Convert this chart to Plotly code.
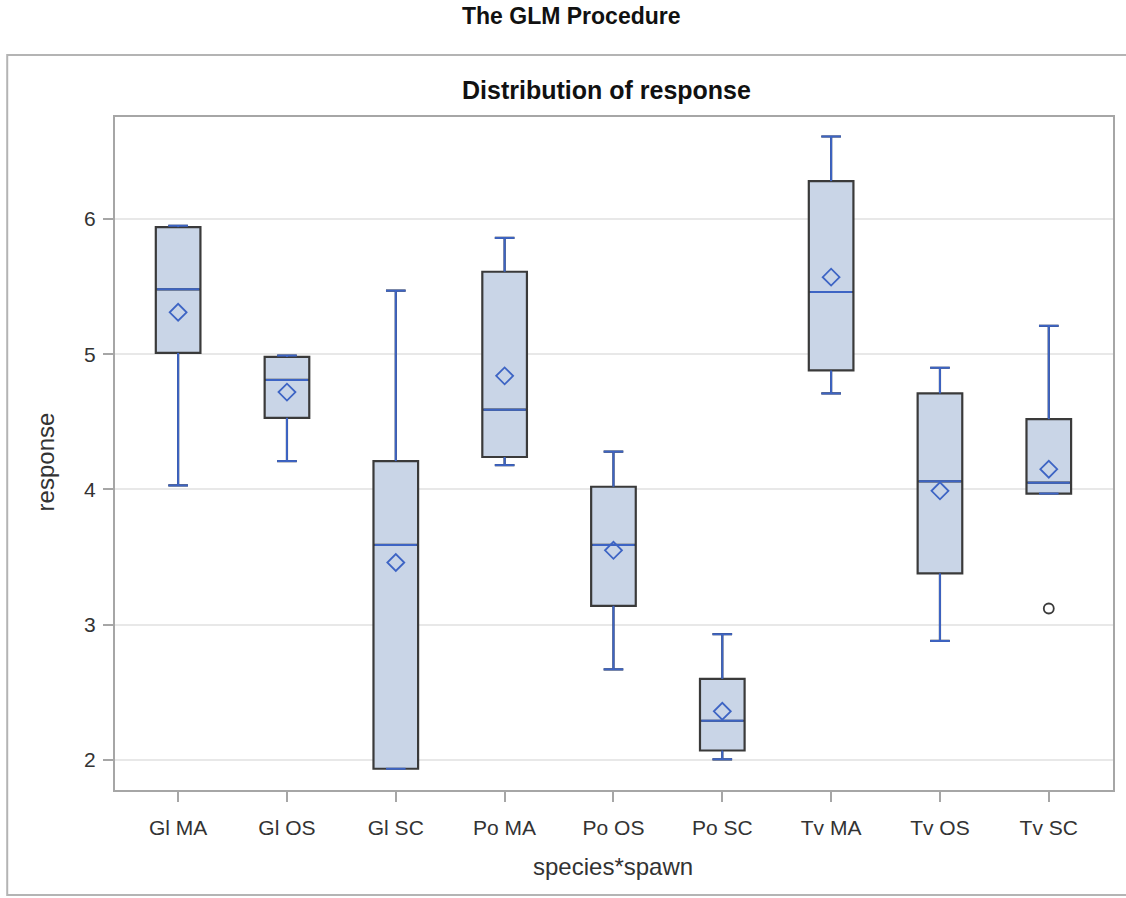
import plotly.graph_objects as go

categories = ["Gl MA", "Gl OS", "Gl SC", "Po MA", "Po OS", "Po SC", "Tv MA", "Tv OS", "Tv SC"]
q1 = [5.01, 4.53, 1.935, 4.24, 3.14, 2.07, 4.88, 3.38, 3.97]
median = [5.48, 4.81, 3.59, 4.59, 3.59, 2.29, 5.46, 4.06, 4.05]
q3 = [5.94, 4.98, 4.21, 5.61, 4.02, 2.60, 6.28, 4.71, 4.52]
lower_whisker = [4.03, 4.21, 1.935, 4.18, 2.67, 2.005, 4.71, 2.88, 3.97]
upper_whisker = [5.95, 4.99, 5.47, 5.86, 4.28, 2.93, 6.61, 4.90, 5.21]
means = [5.31, 4.72, 3.46, 4.84, 3.55, 2.36, 5.57, 3.99, 4.15]
outlier_cat = ["Tv SC"]
outlier_val = [3.12]
y_ticks = [2, 3, 4, 5, 6]

BLUE = "#3d64c4"
DARK = "#3a3a3a"
FILL = "#c9d5e7"
AXIS = "#a6a6a6"
FONT = "Liberation Sans"

pos = list(range(len(categories)))
box_w = 0.41
cap_half = 0.09

fig = go.Figure()
fig.add_trace(go.Box(
    x=pos, q1=q1, median=median, q3=q3,
    lowerfence=lower_whisker, upperfence=upper_whisker,
    width=box_w, whiskerwidth=0.44, boxpoints=False,
    fillcolor=FILL, line=dict(color=DARK, width=2.2),
    showlegend=False, hoverinfo="skip",
))

# blue whiskers, caps and medians drawn on top
wx, wy = [], []
for i, p in enumerate(pos):
    wx += [p, p, None, p, p, None]
    wy += [q3[i], upper_whisker[i], None, q1[i], lower_whisker[i], None]
    wx += [p - cap_half, p + cap_half, None, p - cap_half, p + cap_half, None]
    wy += [upper_whisker[i], upper_whisker[i], None, lower_whisker[i], lower_whisker[i], None]
    wx += [p - box_w / 2 + 0.012, p + box_w / 2 - 0.012, None]
    wy += [median[i], median[i], None]
fig.add_trace(go.Scatter(x=wx, y=wy, mode="lines", line=dict(color=BLUE, width=2),
                         showlegend=False, hoverinfo="skip"))

fig.add_trace(go.Scatter(
    x=pos, y=means, mode="markers",
    marker=dict(symbol="diamond-open", size=13, color=BLUE, line=dict(width=1.8, color=BLUE)),
    showlegend=False,
))
fig.add_trace(go.Scatter(
    x=[categories.index(c) for c in outlier_cat], y=outlier_val, mode="markers",
    marker=dict(symbol="circle-open", size=10, color=DARK, line=dict(width=1.8, color=DARK)),
    showlegend=False,
))

fig.update_layout(
    width=1126, height=898,
    margin=dict(l=115, r=11, t=117, b=108),
    paper_bgcolor="white", plot_bgcolor="white",
    font=dict(family=FONT, color="#333333"),
    showlegend=False,
    xaxis=dict(
        type="linear", range=[-0.58, 8.59],
        tickmode="array", tickvals=pos, ticktext=categories,
        showgrid=False, zeroline=False,
        showline=True, linecolor=AXIS, linewidth=2, mirror=True,
        ticks="outside", ticklen=10, tickcolor=AXIS, tickwidth=1.5,
        tickfont=dict(size=21, color="#333333", family=FONT),
        ticklabelstandoff=8,
    ),
    yaxis=dict(
        range=[1.778, 6.754],
        tickmode="array", tickvals=y_ticks,
        showgrid=True, gridcolor="#e8e8e8", gridwidth=1.5,
        zeroline=False,
        showline=True, linecolor=AXIS, linewidth=2, mirror=True,
        ticks="outside", ticklen=10, tickcolor=AXIS, tickwidth=1.5,
        tickfont=dict(size=21, color="#333333", family=FONT),
        ticklabelstandoff=3,
    ),
    annotations=[
        dict(text="<b>The GLM Procedure</b>", xref="paper", yref="paper",
             x=0.457, y=1.150, xanchor="center", yanchor="middle", showarrow=False,
             font=dict(size=23, color="#111111", family=FONT)),
        dict(text="<b>Distribution of response</b>", xref="paper", yref="paper",
             x=0.492, y=1.040, xanchor="center", yanchor="middle", showarrow=False,
             font=dict(size=25, color="#111111", family=FONT)),
        dict(text="response", xref="paper", yref="paper", textangle=-90,
             x=-0.07, y=0.487, xanchor="center", yanchor="middle", showarrow=False,
             font=dict(size=24, color="#333333", family=FONT)),
        dict(text="species*spawn", xref="paper", yref="paper",
             x=0.499, y=-0.113, xanchor="center", yanchor="middle", showarrow=False,
             font=dict(size=24, color="#333333", family=FONT)),
    ],
    shapes=[
        dict(type="rect", xref="paper", yref="paper",
             x0=-0.108, x1=1.03, y0=-0.156, y1=1.092,
             line=dict(color="#b4b4b4", width=2), fillcolor="rgba(0,0,0,0)", layer="below"),
    ],
)

fig.write_html("out.html")
